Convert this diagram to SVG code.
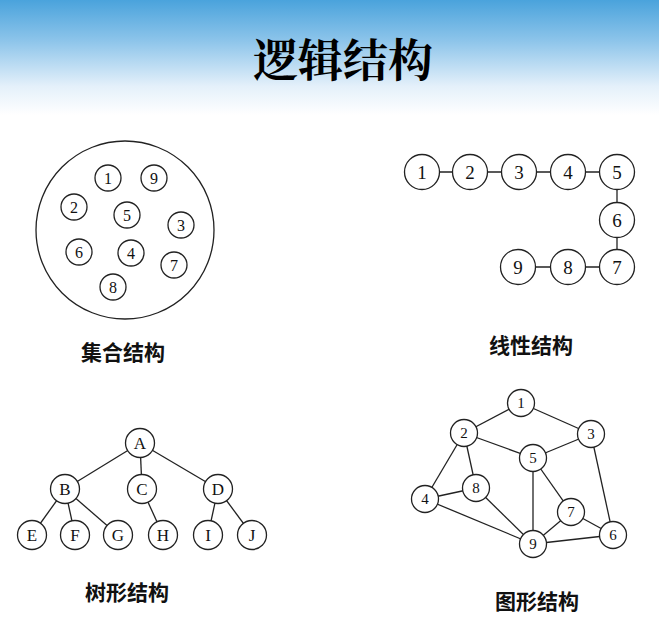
<svg xmlns="http://www.w3.org/2000/svg" width="659" height="620" viewBox="0 0 659 620">
<defs>
<linearGradient id="bg" x1="0" y1="0" x2="0" y2="1">
<stop offset="0" stop-color="#4aa3dc"/>
<stop offset="0.35" stop-color="#8cc4ea"/>
<stop offset="0.75" stop-color="#e4f0fa"/>
<stop offset="1" stop-color="#ffffff"/>
</linearGradient>
</defs>
<style>
.n circle{fill:#fff;stroke:#222;stroke-width:1.3}
.n text{font-family:"Liberation Serif",serif;fill:#111;text-anchor:middle;dominant-baseline:central}
.s text{font-size:16px}
.l text{font-size:19px}
.t text{font-size:17px}
.g text{font-size:15px}
.e line{stroke:#222;stroke-width:1.3}
.lab{font-family:"Noto Sans CJK SC",sans-serif;font-weight:bold;font-size:21px;fill:#111;text-anchor:middle}
</style>
<rect x="0" y="0" width="659" height="620" fill="#fff"/>
<rect x="0" y="0" width="659" height="115" fill="url(#bg)"/>
<text x="343" y="77" font-family="'Noto Serif CJK SC','Noto Sans CJK SC',serif" font-size="45" font-weight="bold" fill="#000" text-anchor="middle">逻辑结构</text>

<!-- Set structure -->
<g id="set">
<circle cx="125" cy="230" r="89" fill="none" stroke="#222" stroke-width="1.3"/>
</g>
<g class="n s">
<g id="s1"><circle cx="108" cy="178" r="13"/><text x="108" y="178">1</text></g>
<g id="s9"><circle cx="154" cy="178" r="13"/><text x="154" y="178">9</text></g>
<g id="s2"><circle cx="74" cy="207" r="13"/><text x="74" y="207">2</text></g>
<g id="s5"><circle cx="127" cy="215" r="13"/><text x="127" y="215">5</text></g>
<g id="s3"><circle cx="181" cy="225" r="13"/><text x="181" y="225">3</text></g>
<g id="s6"><circle cx="79" cy="252" r="13"/><text x="79" y="252">6</text></g>
<g id="s4"><circle cx="131" cy="253" r="13"/><text x="131" y="253">4</text></g>
<g id="s7"><circle cx="174" cy="265" r="13"/><text x="174" y="265">7</text></g>
<g id="s8"><circle cx="113" cy="287" r="13"/><text x="113" y="287">8</text></g>
</g>
<text class="lab" x="123" y="360">集合结构</text>

<!-- Linear structure -->
<g class="e" id="linear-edges">
<line x1="422" y1="172" x2="617" y2="172"/>
<line x1="617" y1="172" x2="617" y2="267"/>
<line x1="518" y1="267" x2="617" y2="267"/>
</g>
<g class="n l">
<g id="l1"><circle cx="422" cy="172" r="17.5"/><text x="422" y="172">1</text></g>
<g id="l2"><circle cx="470" cy="172" r="17.5"/><text x="470" y="172">2</text></g>
<g id="l3"><circle cx="519" cy="172" r="17.5"/><text x="519" y="172">3</text></g>
<g id="l4"><circle cx="568" cy="172" r="17.5"/><text x="568" y="172">4</text></g>
<g id="l5"><circle cx="617" cy="172" r="17.5"/><text x="617" y="172">5</text></g>
<g id="l6"><circle cx="617" cy="220" r="17.5"/><text x="617" y="220">6</text></g>
<g id="l7"><circle cx="617" cy="267" r="17.5"/><text x="617" y="267">7</text></g>
<g id="l8"><circle cx="568" cy="267" r="17.5"/><text x="568" y="267">8</text></g>
<g id="l9"><circle cx="518" cy="267" r="17.5"/><text x="518" y="267">9</text></g>
</g>
<text class="lab" x="531" y="353">线性结构</text>

<!-- Tree structure -->
<g class="e" id="tree-edges">
<line x1="140" y1="443" x2="65" y2="489"/>
<line x1="140" y1="443" x2="142" y2="489"/>
<line x1="140" y1="443" x2="218" y2="489"/>
<line x1="65" y1="489" x2="32" y2="535"/>
<line x1="65" y1="489" x2="75" y2="535"/>
<line x1="65" y1="489" x2="118" y2="535"/>
<line x1="142" y1="489" x2="163" y2="535"/>
<line x1="218" y1="489" x2="208" y2="535"/>
<line x1="218" y1="489" x2="252" y2="535"/>
</g>
<g class="n t">
<g id="tA"><circle cx="140" cy="443" r="14.5"/><text x="140" y="443">A</text></g>
<g id="tB"><circle cx="65" cy="489" r="14.5"/><text x="65" y="489">B</text></g>
<g id="tC"><circle cx="142" cy="489" r="14.5"/><text x="142" y="489">C</text></g>
<g id="tD"><circle cx="218" cy="489" r="14.5"/><text x="218" y="489">D</text></g>
<g id="tE"><circle cx="32" cy="535" r="14.5"/><text x="32" y="535">E</text></g>
<g id="tF"><circle cx="75" cy="535" r="14.5"/><text x="75" y="535">F</text></g>
<g id="tG"><circle cx="118" cy="535" r="14.5"/><text x="118" y="535">G</text></g>
<g id="tH"><circle cx="163" cy="535" r="14.5"/><text x="163" y="535">H</text></g>
<g id="tI"><circle cx="208" cy="535" r="14.5"/><text x="208" y="535">I</text></g>
<g id="tJ"><circle cx="252" cy="535" r="14.5"/><text x="252" y="535">J</text></g>
</g>
<text class="lab" x="127" y="600">树形结构</text>

<!-- Graph structure -->
<g class="e" id="graph-edges">
<line x1="521" y1="403" x2="464" y2="433"/>
<line x1="521" y1="403" x2="591" y2="434"/>
<line x1="464" y1="433" x2="533" y2="458"/>
<line x1="591" y1="434" x2="533" y2="458"/>
<line x1="464" y1="433" x2="425" y2="499"/>
<line x1="464" y1="433" x2="476" y2="488"/>
<line x1="425" y1="499" x2="476" y2="488"/>
<line x1="425" y1="499" x2="533" y2="544"/>
<line x1="476" y1="488" x2="533" y2="544"/>
<line x1="533" y1="458" x2="533" y2="544"/>
<line x1="533" y1="458" x2="571" y2="512"/>
<line x1="571" y1="512" x2="533" y2="544"/>
<line x1="571" y1="512" x2="613" y2="535"/>
<line x1="591" y1="434" x2="613" y2="535"/>
<line x1="533" y1="544" x2="613" y2="535"/>
</g>
<g class="n g">
<g id="g1"><circle cx="521" cy="403" r="13.5"/><text x="521" y="403">1</text></g>
<g id="g2"><circle cx="464" cy="433" r="13.5"/><text x="464" y="433">2</text></g>
<g id="g3"><circle cx="591" cy="434" r="13.5"/><text x="591" y="434">3</text></g>
<g id="g5"><circle cx="533" cy="458" r="13.5"/><text x="533" y="458">5</text></g>
<g id="g8"><circle cx="476" cy="488" r="13.5"/><text x="476" y="488">8</text></g>
<g id="g4"><circle cx="425" cy="499" r="13.5"/><text x="425" y="499">4</text></g>
<g id="g7"><circle cx="571" cy="512" r="13.5"/><text x="571" y="512">7</text></g>
<g id="g6"><circle cx="613" cy="535" r="13.5"/><text x="613" y="535">6</text></g>
<g id="g9"><circle cx="533" cy="544" r="13.5"/><text x="533" y="544">9</text></g>
</g>
<text class="lab" x="537" y="609">图形结构</text>
</svg>
